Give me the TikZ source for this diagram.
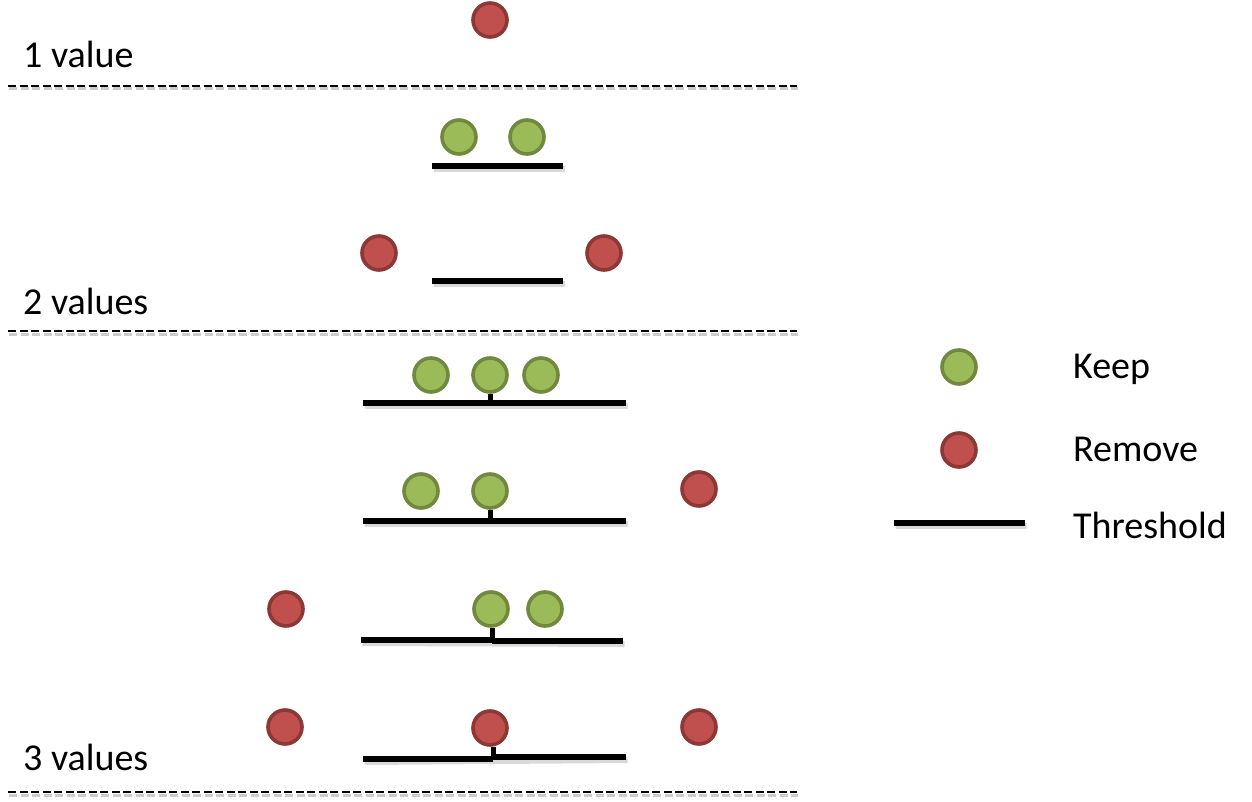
\documentclass[tikz,border=0pt]{standalone}
\usepackage{fontspec}
\setmainfont{Carlito}
\definecolor{keepfill}{HTML}{9BBB59}
\definecolor{keepdraw}{HTML}{71893F}
\definecolor{remfill}{HTML}{C0504D}
\definecolor{remdraw}{HTML}{8C3836}
\begin{document}
\begin{tikzpicture}[x=1pt,y=-1pt,
  keep/.style={circle,fill=keepfill,draw=keepdraw,line width=3.6pt,minimum size=34pt,inner sep=0pt},
  rem/.style={circle,fill=remfill,draw=remdraw,line width=3.6pt,minimum size=34pt,inner sep=0pt},
  thr/.style={line width=5.5pt,black},
  thrshadow/.style={line width=6pt,black!25,opacity=0.6},
  tick/.style={line width=5pt,black},
  sep/.style={line width=2.5pt,dash pattern=on 8pt off 3.5pt},
  sepshadow/.style={line width=3pt,black!20,dash pattern=on 8pt off 3.5pt},
  lbl/.style={anchor=west,inner sep=0pt,font=\fontsize{38}{44}\selectfont}]
\useasboundingbox (0,0) rectangle (1252,802);
% separators
\foreach \yy/\n in {86/a,331/b,792/c}{
  \coordinate (s\n l) at (8,\yy); \coordinate (s\n r) at (797,\yy);
  \draw[sepshadow] ([shift={(1,3)}]s\n l) -- ([shift={(1,3)}]s\n r);
  \draw[sep] (s\n l) -- (s\n r);
}
\node[lbl] (t1) at (23,54) {1 value};
\node[lbl] (t2) at (23,301) {2 values};
\node[lbl] (t3) at (23,757) {3 values};
% section 1
\node[rem] (c0) at (490,20) {};
% section 2
\coordinate (l1a) at (432,166); \coordinate (l1b) at (563,166);
\draw[thrshadow] ([shift={(1.5,3)}]l1a) -- ([shift={(1.5,3)}]l1b);
\draw[thr] (l1a) -- (l1b);
\node[keep] (g1) at (459,137) {};
\node[keep] (g2) at (527,137) {};
\coordinate (l2a) at (432,281); \coordinate (l2b) at (563,281);
\draw[thrshadow] ([shift={(1.5,3)}]l2a) -- ([shift={(1.5,3)}]l2b);
\draw[thr] (l2a) -- (l2b);
\node[rem] (r1) at (379,253) {};
\node[rem] (r2) at (604,253) {};
% section 3, row 1
\coordinate (l3a) at (363,403); \coordinate (l3b) at (626,403); \coordinate (l3m) at (490,403);
\draw[thrshadow] ([shift={(1.5,3)}]l3a) -- ([shift={(1.5,3)}]l3b);
\draw[thr] (l3a) -- (l3b);
\node[keep] (g3) at (431,375) {};
\node[keep] (g4) at (490,375) {};
\node[keep] (g5) at (541,375) {};
\draw[tick] (g4.south) -- (l3m);
% row 2
\coordinate (l4a) at (363,521); \coordinate (l4b) at (626,521); \coordinate (l4m) at (490,521);
\draw[thrshadow] ([shift={(1.5,3)}]l4a) -- ([shift={(1.5,3)}]l4b);
\draw[thr] (l4a) -- (l4b);
\node[keep] (g6) at (421,491) {};
\node[keep] (g7) at (490,491) {};
\node[rem] (r3) at (699,489) {};
\draw[tick] (g7.south) -- (l4m);
% row 3
\coordinate (l5a) at (361,640); \coordinate (l5m) at (492,640);
\coordinate (l5n) at (492,641); \coordinate (l5b) at (623,641);
\draw[thrshadow] ([shift={(1.5,3)}]l5a) -- ([shift={(1.5,3)}]l5b);
\draw[thr] (l5a) -- (l5m);
\draw[thr] (l5n) -- (l5b);
\node[keep] (g8) at (491,609) {};
\node[keep] (g9) at (545,609) {};
\node[rem] (r4) at (286,609) {};
\draw[tick] (g8.south -| l5m) -- (l5m);
% row 4
\coordinate (l6a) at (363,759); \coordinate (l6m) at (493,759);
\coordinate (l6n) at (493,757); \coordinate (l6b) at (626,757);
\draw[thrshadow] ([shift={(1.5,3)}]l6a) -- ([shift={(1.5,3)}]l6b);
\draw[thr] (l6a) -- (l6m);
\draw[thr] (l6n) -- (l6b);
\node[rem] (r5) at (285,727) {};
\node[rem] (r6) at (490,728) {};
\node[rem] (r7) at (699,727) {};
\draw[tick] (r6.south -| l6m) -- (l6m);
% legend
\node[keep] (lk) at (959,367) {};
\node[lbl] (tk) at (1073,369) {Keep};
\node[rem] (lr) at (959,450) {};
\node[lbl] (tr) at (1073,449) {Remove};
\coordinate (lta) at (894,523); \coordinate (ltb) at (1025,523);
\draw[thrshadow] ([shift={(1.5,3)}]lta) -- ([shift={(1.5,3)}]ltb);
\draw[thr] (lta) -- (ltb);
\node[lbl] (tt) at (1073,525) {Threshold};
\end{tikzpicture}
\end{document}
